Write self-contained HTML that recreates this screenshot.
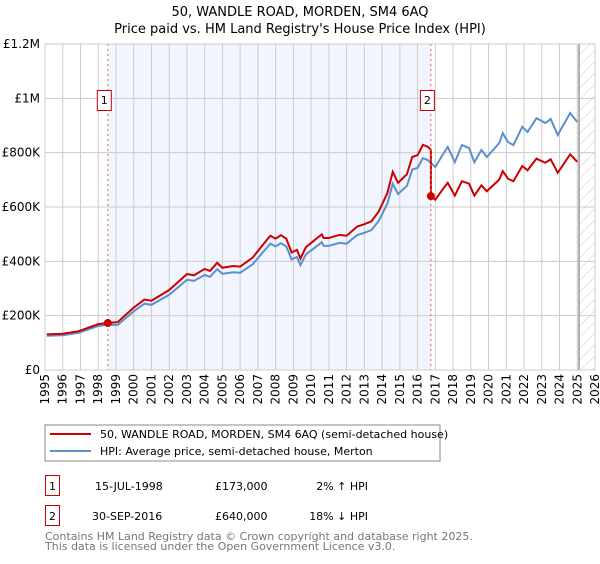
<!DOCTYPE html>
<html><head><meta charset="utf-8"><style>
body{margin:0;background:#fff;font-family:"DejaVu Sans","Liberation Sans",sans-serif;}
svg text{font-family:"DejaVu Sans","Liberation Sans",sans-serif;}
</style></head><body>
<svg width="600" height="560" viewBox="0 0 600 560">
<defs><pattern id="hatch" width="8" height="8" patternUnits="userSpaceOnUse" patternTransform="rotate(45)"><line x1="0" y1="0" x2="0" y2="8" stroke="#ccc" stroke-width="1"/></pattern></defs>
<text x="300" y="16" text-anchor="middle" font-size="13">50, WANDLE ROAD, MORDEN, SM4 6AQ</text>
<text x="300" y="33" text-anchor="middle" font-size="13">Price paid vs. HM Land Registry's House Price Index (HPI)</text>
<g id="plot"></g>
<rect x="45" y="425" width="395" height="36" fill="#fff" stroke="#888"/>
<line x1="50" y1="434" x2="91" y2="434" stroke="#cc0000" stroke-width="2"/>
<text x="100" y="438" font-size="11">50, WANDLE ROAD, MORDEN, SM4 6AQ (semi-detached house)</text>
<line x1="50" y1="451" x2="91" y2="451" stroke="#5b8fd0" stroke-width="2"/>
<text x="100" y="455" font-size="11">HPI: Average price, semi-detached house, Merton</text>
<g font-size="11">
<rect x="45.5" y="475.5" width="14" height="20" fill="#fff" stroke="#cc0000"/>
<text x="52.5" y="490" text-anchor="middle">1</text>
<text x="95" y="490">15-JUL-1998</text><text x="215" y="490">£173,000</text><text x="368" y="490" text-anchor="end">2% ↑ HPI</text>
<rect x="45.5" y="505.5" width="14" height="20" fill="#fff" stroke="#cc0000"/>
<text x="52.5" y="520" text-anchor="middle">2</text>
<text x="92" y="520">30-SEP-2016</text><text x="215" y="520">£640,000</text><text x="368" y="520" text-anchor="end">18% ↓ HPI</text>
</g>
<text x="45" y="540" font-size="11" fill="#777">Contains HM Land Registry data © Crown copyright and database right 2025.</text>
<text x="45" y="550" font-size="11" fill="#777">This data is licensed under the Open Government Licence v3.0.</text>
</svg>
<script>
const hpiYears=[1995.1,1996.0,1996.9,1998.0,1998.5,1999.1,2000.0,2000.6,2001.0,2002.0,2003.0,2003.4,2004.0,2004.3,2004.7,2005.0,2005.6,2006.0,2006.7,2007.5,2007.7,2008.0,2008.3,2008.6,2008.9,2009.2,2009.4,2009.7,2010.0,2010.6,2010.7,2011.0,2011.6,2012.0,2012.6,2013.0,2013.4,2013.8,2014.3,2014.6,2014.9,2015.4,2015.7,2016.0,2016.3,2016.6,2017.0,2017.4,2017.7,2018.1,2018.5,2018.9,2019.2,2019.6,2019.9,2020.6,2020.8,2021.1,2021.4,2021.9,2022.2,2022.7,2023.2,2023.5,2023.9,2024.6,2025.0];
const hpiValues=[126,128,137,162,166,166,216,244,240,277,332,328,350,343,371,354,360,358,389,450,465,455,467,455,407,416,386,425,440,470,457,457,468,465,497,505,515,548,613,686,648,678,738,744,780,772,747,791,821,765,828,817,765,810,784,835,872,839,828,895,876,927,909,924,865,946,913];
const sales=[{t:1998.54,v:173,label:"1"},{t:2016.75,v:640,label:"2"}];
const yTicks=[0,200,400,600,800,1000,1200];
const yTickLabels=["£0","£200K","£400K","£600K","£800K","£1M","£1.2M"];
const x0=45,x1=595,yB=370,yT=44;
const X=t=>x0+(t-1995)/31*(x1-x0);
const Y=v=>yB-v/1200*(yB-yT);
const NS="http://www.w3.org/2000/svg";
const g=document.getElementById('plot');
function mk(tag,attrs,parent){const e=document.createElementNS(NS,tag);for(const k in attrs)e.setAttribute(k,attrs[k]);(parent||g).appendChild(e);return e;}
let e;
e=mk('rect',{x:X(sales[0].t),y:yT,width:X(sales[1].t)-X(sales[0].t),height:yB-yT,fill:'#f2f5fd'});


e=mk('rect',{x:X(2025.1),y:yT,width:x1-X(2025.1),height:yB-yT,fill:'url(#hatch)'});


for(let yr=1995;yr<=2026;yr++){
 e=mk('line',{x1:X(yr),x2:X(yr),y1:yT,y2:yB,stroke:'#cccccc','stroke-width':1});
 
 
 e=mk('text',{x:0,y:0,'font-size':12,'text-anchor':'end',transform:`translate(${X(yr)+4},374) rotate(-90)`});
 e.textContent=yr;
 
 
}
yTicks.forEach((v,i)=>{
 e=mk('line',{x1:x0,x2:x1,y1:Y(v),y2:Y(v),stroke:'#cccccc','stroke-width':1});
 
 
 e=mk('text',{x:40,y:Y(v)+4,'font-size':12,'text-anchor':'end'});
 e.textContent=yTickLabels[i];
 
 
});
e=mk('line',{x1:X(2025.1),x2:X(2025.1),y1:yT,y2:yB,stroke:'#999','stroke-width':1.5});


function hpiAt(t){for(let i=1;i<hpiYears.length;i++){if(hpiYears[i]>=t){const a=hpiYears[i-1],b=hpiYears[i];return hpiValues[i-1]+(hpiValues[i]-hpiValues[i-1])*(t-a)/(b-a);}}return hpiValues[hpiValues.length-1];}
e=mk('polyline',{points:hpiYears.map((t,i)=>X(t)+','+Y(hpiValues[i])).join(' '),fill:'none',stroke:'#5b8fd0','stroke-width':2});


const f1=sales[0].v/hpiAt(sales[0].t)*1.0, f2=sales[1].v/hpiAt(sales[1].t);
const pre=[],post=[];
hpiYears.forEach((t,i)=>{ if(t<sales[1].t) pre.push(X(t)+','+Y(hpiValues[i]*(t<sales[0].t?f1:f1*1.02))); else post.push(X(t)+','+Y(hpiValues[i]*f2));});
const redPts=pre.concat([X(sales[1].t)+','+Y(hpiAt(sales[1].t)*f1*1.02),X(sales[1].t)+','+Y(sales[1].v)]).concat(post);
e=mk('polyline',{points:redPts.join(' '),fill:'none',stroke:'#cc0000','stroke-width':2});


sales.forEach(s=>{
 e=mk('line',{x1:X(s.t),x2:X(s.t),y1:yT,y2:yB,stroke:'#e06060','stroke-width':1,'stroke-dasharray':'2,3'});
 
 
 e=mk('circle',{cx:X(s.t),cy:Y(s.v),r:4,fill:'#cc0000'});
 
 
 e=mk('rect',{x:X(s.t)-10.5,y:90.5,width:14,height:20,fill:'#fff',stroke:'#cc0000'});
 
 
 e=mk('text',{x:X(s.t)-3.5,y:104,'font-size':11,'text-anchor':'middle'});
 e.textContent=s.label;
 
 
});
e=mk('rect',{x:x0,y:yT,width:x1-x0,height:yB-yT,fill:'none',stroke:'#cccccc'});


</script>
</body></html>
